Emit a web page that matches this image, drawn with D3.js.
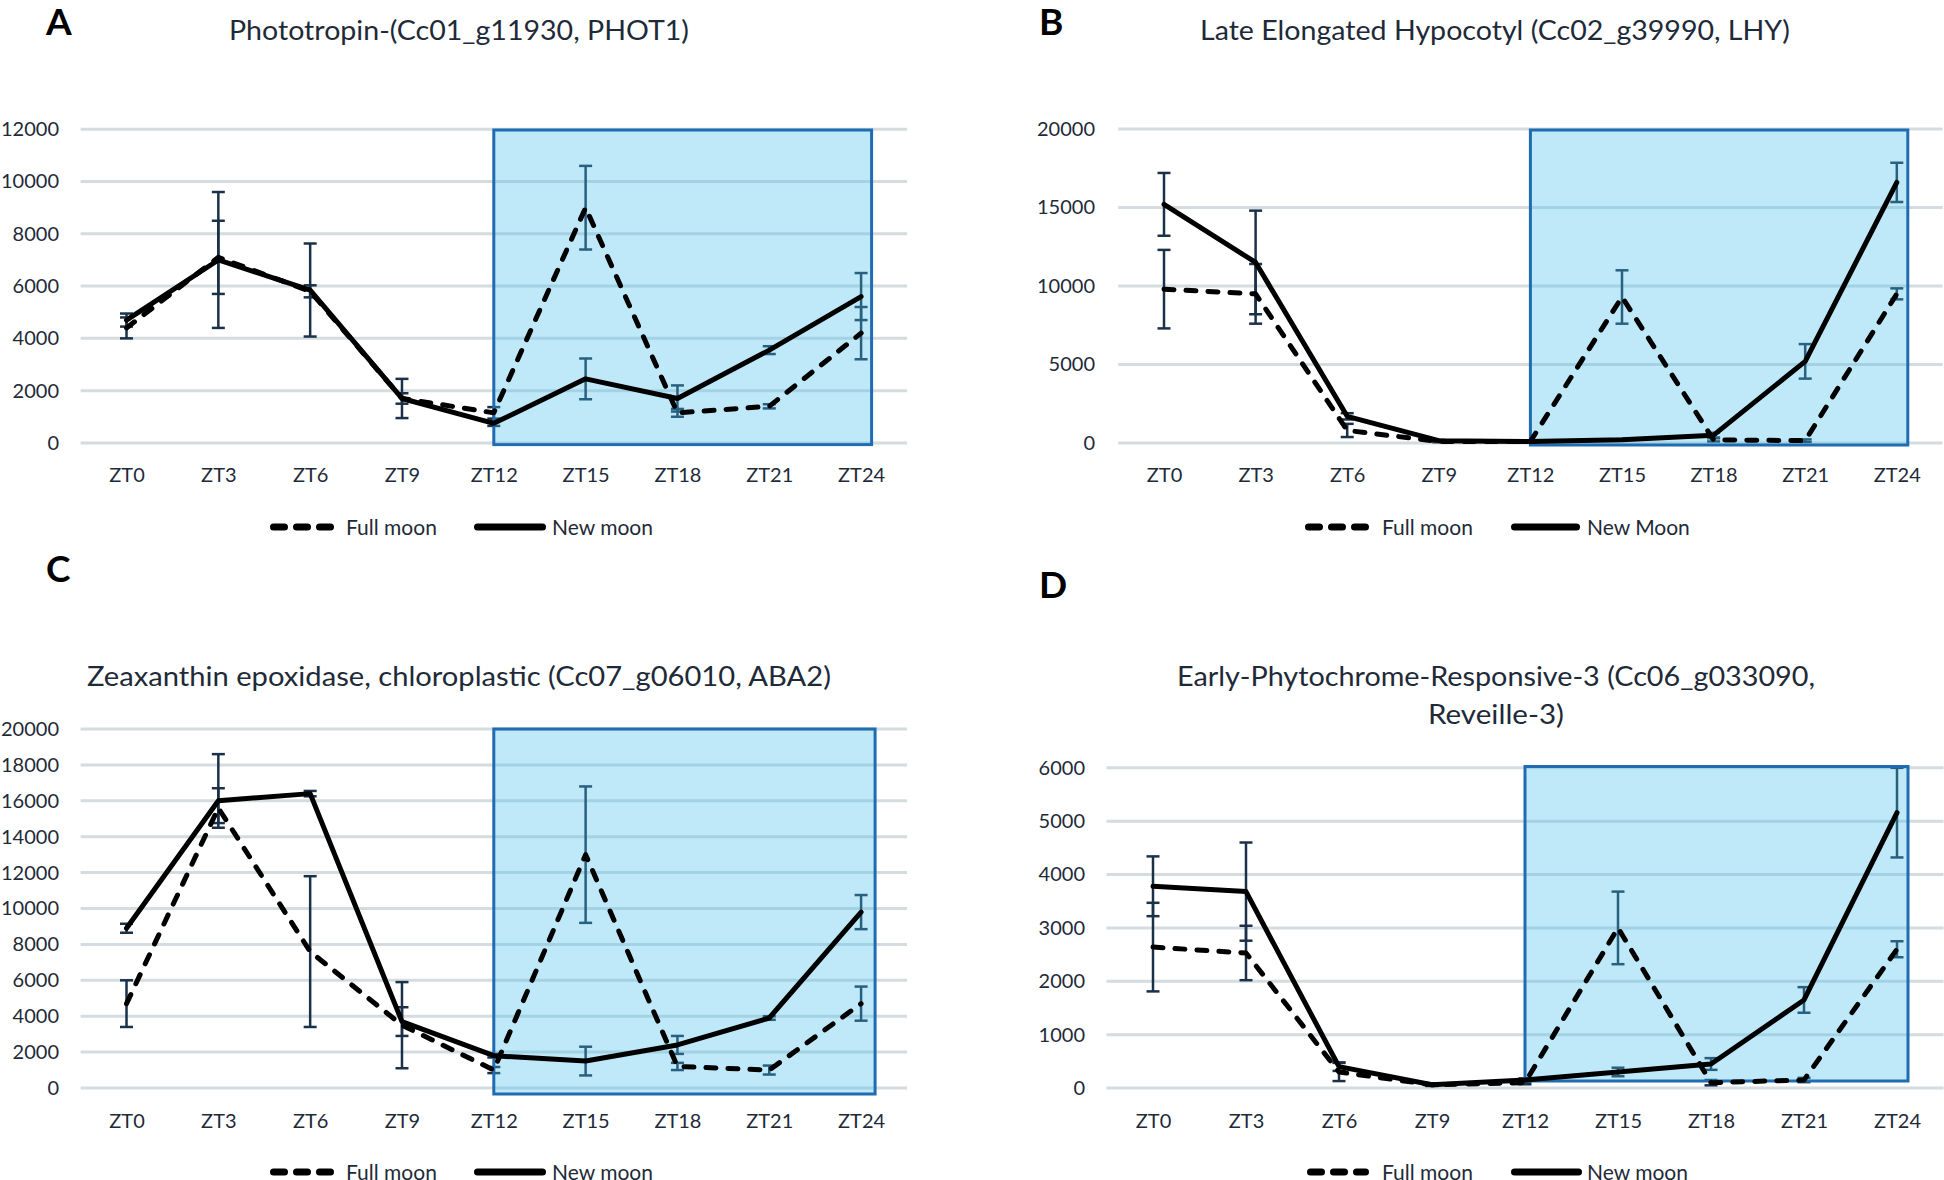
<!DOCTYPE html>
<html>
<head>
<meta charset="utf-8">
<script src="https://cdn.jsdelivr.net/npm/d3@7"></script>
<style>
  html, body { margin: 0; padding: 0; background: #ffffff; }
  svg { display: block; font-family: Lato, "Open Sans", sans-serif; }
</style>
</head>
<body>
<svg id="chart" width="1944" height="1180"></svg>
<script>
// ---------- DATA ----------
const categories = ["ZT0", "ZT3", "ZT6", "ZT9", "ZT12", "ZT15", "ZT18", "ZT21", "ZT24"];
const shadeFrom = "ZT12";
const shadeTo = "ZT24";

// Panel A
const titleA = ["Phototropin-(Cc01_g11930, PHOT1)"];
const legendA = ["Full moon", "New moon"];
const ticksA = [0, 2000, 4000, 6000, 8000, 10000, 12000];
const aFull = [4400, 7100, 5800, 1700, 1150, 9000, 1150, 1400, 4200];
const aFullErr = [400, 1400, 230, 200, 220, 1600, 150, 80, 1000];
const aNew = [4700, 7000, 5850, 1700, 750, 2450, 1700, 3550, 5600];
const aNewErr = [250, 2600, 1780, 750, 100, 780, 500, 150, 900];

// Panel B
const titleB = ["Late Elongated Hypocotyl (Cc02_g39990, LHY)"];
const legendB = ["Full moon", "New Moon"];
const ticksB = [0, 5000, 10000, 15000, 20000];
const bFull = [9800, 9500, 800, 100, 100, 9300, 200, 150, 9500];
const bFullErr = [2500, 1900, 420, 50, 50, 1700, 100, 80, 350];
const bNew = [15200, 11500, 1700, 150, 100, 200, 500, 5200, 16600];
const bNewErr = [2000, 3300, 200, 50, 50, 50, 150, 1100, 1250];

// Panel C
const titleC = ["Zeaxanthin epoxidase, chloroplastic (Cc07_g06010, ABA2)"];
const legendC = ["Full moon", "New moon"];
const ticksC = [0, 2000, 4000, 6000, 8000, 10000, 12000, 14000, 16000, 18000, 20000];
const cFull = [4700, 15600, 7600, 3500, 1000, 13000, 1200, 1000, 4700];
const cFullErr = [1300, 1100, 4200, 2400, 170, 3800, 200, 250, 950];
const cNew = [8900, 16000, 16400, 3700, 1800, 1500, 2400, 3900, 9800];
const cNewErr = [250, 2600, 150, 800, 100, 800, 500, 100, 950];
const cNewErrLow = [250, 1240, 150, 800, 100, 800, 500, 100, 950];

// Panel D
const titleD = ["Early-Phytochrome-Responsive-3 (Cc06_g033090,", "Reveille-3)"];
const legendD = ["Full moon", "New moon"];
const ticksD = [0, 1000, 2000, 3000, 4000, 5000, 6000];
const dFull = [2640, 2530, 300, 60, 100, 3000, 100, 150, 2600];
const dFullErr = [830, 510, 170, 20, 30, 680, 50, 40, 150];
const dNew = [3780, 3680, 400, 60, 150, 300, 450, 1650, 5160];
const dNewErr = [560, 920, 80, 20, 30, 80, 110, 240, 840];

// ---------- LAYOUT / STYLE ----------
const TEXT = "#1e2a38";
const GRID = "#d4dcdf";
const ERR = "#1b3149";
const SHADE_FILL = "rgba(67,190,234,0.34)";
const SHADE_STROKE = "#1f6cb3";

const panels = [
  { letter: "A", lx: 46, ly: 35,
    title: titleA, titleX: 459, titleY: [40], titleW: [460],
    ticks: ticksA, full: aFull, fullErr: aFullErr, nw: aNew, nwErr: aNewErr,
    legend: legendA,
    left: 80.6, right: 907, y0: 442.9, yTop: 129.3, tickRight: 59, xLabY: 482,
    shadeExtra: 10.5, shadeTopPad: 0.7, shadeBotPad: 1.7,
    legY: 527, legDash: [270, 335], legText1: 346, legSolid: [474, 546], legText2: 552 },
  { letter: "B", lx: 1039, ly: 35,
    title: titleB, titleX: 1495, titleY: [40], titleW: [590],
    ticks: ticksB, full: bFull, fullErr: bFullErr, nw: bNew, nwErr: bNewErr,
    legend: legendB,
    left: 1118.2, right: 1942.6, y0: 443, yTop: 129, tickRight: 1095, xLabY: 482,
    shadeExtra: 11, shadeTopPad: 1, shadeBotPad: 2,
    legY: 527, legDash: [1305, 1369], legText1: 1382, legSolid: [1511, 1580], legText2: 1587 },
  { letter: "C", lx: 46, ly: 582,
    title: titleC, titleX: 459, titleY: [686], titleW: [744],
    ticks: ticksC, full: cFull, fullErr: cFullErr, nw: cNew, nwErr: cNewErr, nwErrLow: cNewErrLow,
    legend: legendC,
    left: 80.6, right: 907, y0: 1088, yTop: 729, tickRight: 59, xLabY: 1128,
    shadeExtra: 14, shadeTopPad: 0, shadeBotPad: 6,
    legY: 1172, legDash: [270, 335], legText1: 346, legSolid: [474, 546], legText2: 552 },
  { letter: "D", lx: 1039, ly: 598,
    title: titleD, titleX: 1496, titleY: [686, 724], titleW: [638, 136],
    ticks: ticksD, full: dFull, fullErr: dFullErr, nw: dNew, nwErr: dNewErr,
    legend: legendD,
    left: 1106.5, right: 1943.5, y0: 1088, yTop: 767.8, tickRight: 1085, xLabY: 1128,
    shadeExtra: 11, shadeTopPad: -1.3, shadeBotPad: -7,
    legY: 1172, legDash: [1307, 1369], legText1: 1382, legSolid: [1511, 1582], legText2: 1587 }
];

const svg = d3.select("#chart");
svg.append("rect").attr("width", 1944).attr("height", 1180).attr("fill", "#fff");

panels.forEach(p => {
  const g = svg.append("g");
  const x = d3.scalePoint().domain(categories).range([p.left, p.right]).padding(0.5);
  const y = d3.scaleLinear().domain([0, d3.max(p.ticks)]).range([p.y0, p.yTop]);

  // panel letter
  g.append("text").attr("x", p.lx).attr("y", p.ly)
    .attr("font-size", 37).attr("font-weight", 700).attr("fill", "#000")
    .text(p.letter);

  // title
  p.title.forEach((t, i) => {
    g.append("text").attr("x", p.titleX).attr("y", p.titleY[i])
      .attr("text-anchor", "middle").attr("font-size", 26).attr("fill", TEXT)
      .attr("textLength", p.titleW[i]).attr("lengthAdjust", "spacingAndGlyphs")
      .text(t);
  });

  // gridlines
  g.append("g").selectAll("line").data(p.ticks).join("line")
    .attr("x1", p.left).attr("x2", p.right)
    .attr("y1", d => y(d)).attr("y2", d => y(d))
    .attr("stroke", GRID).attr("stroke-width", 3);

  // y axis labels
  const ya = g.append("g").attr("transform", `translate(${p.tickRight},0)`)
    .call(d3.axisLeft(y).tickValues(p.ticks).tickSize(0).tickPadding(0).tickFormat(d3.format("d")));
  ya.select(".domain").remove();
  ya.selectAll("text").attr("font-size", 20).attr("fill", TEXT)
    .attr("font-family", "Lato, 'Open Sans', sans-serif");

  // x axis labels
  const xa = g.append("g").attr("transform", `translate(0,${p.xLabY})`)
    .call(d3.axisBottom(x).tickSize(0).tickPadding(0));
  xa.select(".domain").remove();
  xa.selectAll("text").attr("dy", 0).attr("y", 0).attr("font-size", 20).attr("fill", TEXT)
    .attr("font-family", "Lato, 'Open Sans', sans-serif");

  // error bars
  const series = [
    { vals: p.full, errUp: p.fullErr, errDn: p.fullErr },
    { vals: p.nw, errUp: p.nwErr, errDn: p.nwErrLow || p.nwErr }
  ];
  const eg = g.append("g").attr("stroke", ERR).attr("stroke-width", 2.5);
  series.forEach(s => {
    categories.forEach((c, i) => {
      const cx = x(c);
      const hi = y(s.vals[i] + s.errUp[i]);
      const lo = y(s.vals[i] - s.errDn[i]);
      eg.append("line").attr("x1", cx).attr("x2", cx).attr("y1", hi).attr("y2", lo);
      eg.append("line").attr("x1", cx - 6.5).attr("x2", cx + 6.5).attr("y1", hi).attr("y2", hi);
      eg.append("line").attr("x1", cx - 6.5).attr("x2", cx + 6.5).attr("y1", lo).attr("y2", lo);
    });
  });

  // shaded night region
  const sx0 = x(shadeFrom);
  const sx1 = x(shadeTo) + p.shadeExtra;
  const sy0 = y(d3.max(p.ticks)) + p.shadeTopPad;
  const sy1 = y(0) + p.shadeBotPad;
  g.append("rect").attr("x", sx0).attr("y", sy0)
    .attr("width", sx1 - sx0).attr("height", sy1 - sy0)
    .attr("fill", SHADE_FILL).attr("stroke", SHADE_STROKE).attr("stroke-width", 3);

  // lines
  const line = d3.line().x((d, i) => x(categories[i])).y(d => y(d));
  g.append("path").datum(p.full).attr("d", line)
    .attr("fill", "none").attr("stroke", "#000").attr("stroke-width", 5)
    .attr("stroke-dasharray", "10,12").attr("stroke-linecap", "round").attr("stroke-linejoin", "round");
  g.append("path").datum(p.nw).attr("d", line)
    .attr("fill", "none").attr("stroke", "#000").attr("stroke-width", 5)
    .attr("stroke-linecap", "round").attr("stroke-linejoin", "round");

  // legend
  g.append("line").attr("x1", p.legDash[0] + 3.5).attr("x2", p.legDash[1] - 3.5)
    .attr("y1", p.legY).attr("y2", p.legY)
    .attr("stroke", "#000").attr("stroke-width", 7).attr("stroke-linecap", "round")
    .attr("stroke-dasharray", "11,12");
  g.append("text").attr("x", p.legText1).attr("y", p.legY).attr("dy", "0.36em")
    .attr("font-size", 21).attr("fill", TEXT).text(p.legend[0]);
  g.append("line").attr("x1", p.legSolid[0] + 3.5).attr("x2", p.legSolid[1] - 3.5)
    .attr("y1", p.legY).attr("y2", p.legY)
    .attr("stroke", "#000").attr("stroke-width", 7).attr("stroke-linecap", "round");
  g.append("text").attr("x", p.legText2).attr("y", p.legY).attr("dy", "0.36em")
    .attr("font-size", 21).attr("fill", TEXT).text(p.legend[1]);
});
</script>
</body>
</html>
